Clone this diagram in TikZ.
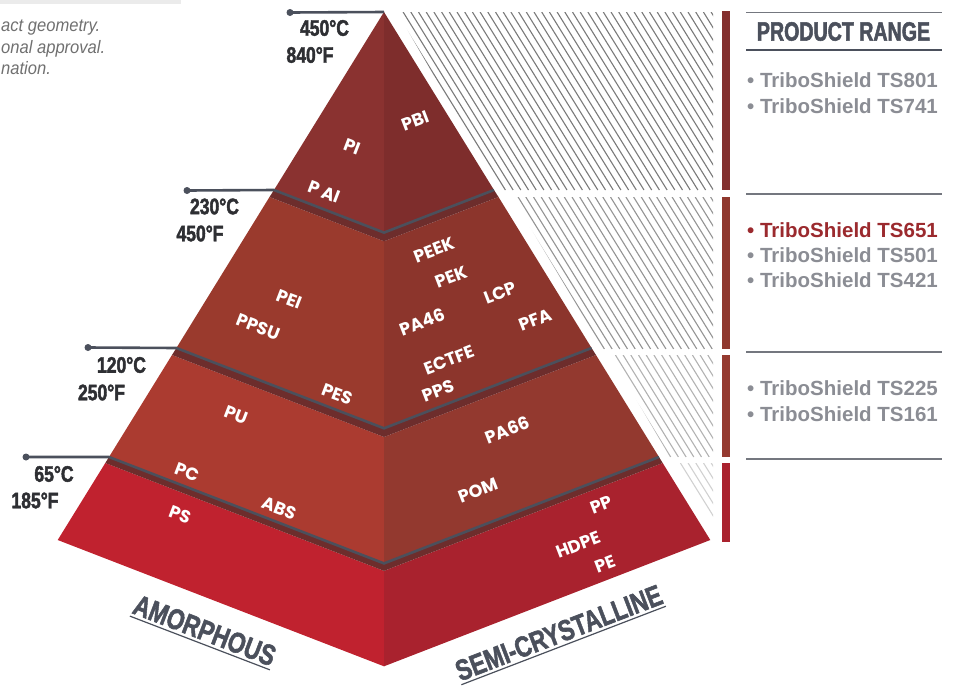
\documentclass[tikz,border=0pt]{standalone}
\usepackage{fontspec}
\setmainfont{Liberation Sans}
\newfontfamily\condf{Liberation Sans}[UprightFont={* Bold}, FakeStretch=0.78, FakeBold=2]
\newfontfamily\condg{Liberation Sans}[UprightFont={* Bold}, FakeStretch=0.74, FakeBold=2]
\newfontfamily\axf{Liberation Sans}[UprightFont={* Bold}, FakeBold=2]
\newfontfamily\notef{Liberation Sans}[FakeStretch=0.92]
\newfontfamily\labf{Poppins}
\definecolor{slate}{HTML}{4B505C}
\definecolor{tempc}{HTML}{2E2F33}
\definecolor{tIl}{HTML}{8A3230}
\definecolor{tIr}{HTML}{7E2D2C}
\definecolor{tIIl}{HTML}{9A3A2D}
\definecolor{tIIr}{HTML}{8C352C}
\definecolor{tIIIl}{HTML}{AB3B30}
\definecolor{tIIIr}{HTML}{93392F}
\definecolor{tIVl}{HTML}{C0222F}
\definecolor{tIVr}{HTML}{A9222E}
\definecolor{band}{HTML}{6D2D2C}
\definecolor{barI}{HTML}{832F2E}
\definecolor{barII}{HTML}{8F382E}
\definecolor{barIII}{HTML}{953A30}
\definecolor{barIV}{HTML}{AA222E}
\definecolor{prodgray}{HTML}{8B8D94}
\definecolor{prodred}{HTML}{9B2A2E}
\definecolor{sepgray}{HTML}{74777F}
\definecolor{notegray}{HTML}{707070}
\definecolor{topbar}{HTML}{EBEBEB}
\tikzset{
  temp/.style={font=\condf\fontsize{22.5}{26}\selectfont, text=tempc, inner sep=0pt},
  mat/.style={font=\labf\bfseries\fontsize{17.5}{20}\selectfont, text=white, inner sep=0pt},
  matL/.style={mat, rotate=-21},
  matR/.style={mat, rotate=21},
  prod/.style={font=\bfseries\fontsize{20.5}{24}\selectfont, text=prodgray, anchor=base west, inner sep=0pt},
  axislab/.style={font=\axf\fontsize{29}{32}\selectfont, text=slate, inner xsep=0pt, inner ysep=3pt},
  gline/.style={draw=slate, line width=2.6pt, line join=miter},
  dotnode/.style={circle, fill=slate, inner sep=0pt, minimum size=7pt},
  sepline/.style={draw=sepgray, line width=1.3pt},
  note/.style={font=\notef\itshape\fontsize{18}{22}\selectfont, text=notegray, inner sep=0pt, anchor=base west},
}
\begin{document}
\begin{tikzpicture}[x=1pt,y=-1pt]
\useasboundingbox (0,0) rectangle (956,686);
% top-left remnants
\fill[topbar] (0,0) rectangle (181,3.5);
\node[note] (n1) at (1,31) {act geometry.};
\node[note] (n2) at (1,53) {onal approval.};
\node[note] (n3) at (1,74) {nation.};

% hatching
\begin{scope}
\clip (397,12) -- (713,12) -- (713,191) -- (501,191) -- cycle;
\foreach \x in {380,387.7,...,720} \draw[color=black!52, line width=1.1pt] (\x,12) -- ++(110,178);
\end{scope}
\begin{scope}
\clip (512,197) -- (713,197) -- (713,349) -- (603,349) -- cycle;
\foreach \x in {495,502.7,...,720} \draw[color=black!42, line width=1.1pt] (\x,197) -- ++(94,152);
\end{scope}
\begin{scope}
\clip (610,355) -- (713,355) -- (713,457) -- (670,457) -- cycle;
\foreach \x in {600,607.7,...,720} \draw[color=black!30, line width=1.1pt] (\x,355) -- ++(63,102);
\end{scope}
\begin{scope}
\clip (678,463) -- (713,463) -- (713,521) -- cycle;
\foreach \x in {665,672.7,...,720} \draw[color=black!18, line width=1.1pt] (\x,463) -- ++(36,58);
\end{scope}

% bars
\fill[barI] (722,11) rectangle (730,190);
\fill[barII] (722,197) rectangle (730,349);
\fill[barIII] (722,355) rectangle (730,457);
\fill[barIV] (722,463) rectangle (730,542);

% pyramid coordinates
\coordinate (A) at (384,12);
\coordinate (L1) at (274,190);   \coordinate (C1) at (384,232.6); \coordinate (R1) at (494,190);
\coordinate (L1b) at (269.5,197); \coordinate (C1b) at (384,241.3); \coordinate (R1b) at (498.5,197);
\coordinate (L2) at (176.4,348); \coordinate (C2) at (384,428.3); \coordinate (R2) at (591.6,348);
\coordinate (L2b) at (172,355);  \coordinate (C2b) at (384,437);   \coordinate (R2b) at (596,355);
\coordinate (L3) at (109,457);   \coordinate (C3) at (384,563.4); \coordinate (R3) at (659,457);
\coordinate (L3b) at (105.3,463); \coordinate (C3b) at (384,570.9); \coordinate (R3b) at (662.7,463);
\coordinate (L4) at (57.7,540);  \coordinate (C4) at (384,666.3); \coordinate (R4) at (710.3,540);

% faces
\fill[tIl] (A) -- (L1) -- (C1) -- cycle;
\fill[tIr] (A) -- (C1) -- (R1) -- cycle;
\fill[tIIl] (L1b) -- (L2) -- (C2) -- (C1b) -- cycle;
\fill[tIIr] (C1b) -- (C2) -- (R2) -- (R1b) -- cycle;
\fill[tIIIl] (L2b) -- (L3) -- (C3) -- (C2b) -- cycle;
\fill[tIIIr] (C2b) -- (C3) -- (R3) -- (R2b) -- cycle;
\fill[tIVl] (L3b) -- (L4) -- (C4) -- (C3b) -- cycle;
\fill[tIVr] (C3b) -- (C4) -- (R4) -- (R3b) -- cycle;
% shadow bands
\fill[band] (L1) -- (C1) -- (R1) -- (R1b) -- (C1b) -- (L1b) -- cycle;
\fill[band] (L2) -- (C2) -- (R2) -- (R2b) -- (C2b) -- (L2b) -- cycle;
\fill[band] (L3) -- (C3) -- (R3) -- (R3b) -- (C3b) -- (L3b) -- cycle;

% temperature lines
\node[dotnode] (d450) at (290,12.5) {};
\node[dotnode] (d230) at (187,190.5) {};
\node[dotnode] (d120) at (88,347.5) {};
\node[dotnode] (d65) at (26,457) {};
\draw[gline] (d450.center) -- (A);
\draw[gline] (d230.center) -- (L1) -- (C1) -- (R1);
\draw[gline] (d120.center) -- (L2) -- (C2) -- (R2);
\draw[gline] (d65.center) -- (L3) -- (C3) -- (R3);

% temperatures
\node[temp] (t450c) at (324.5,28) {450°C};
\node[temp] (t840f) at (310,55) {840°F};
\node[temp] (t230c) at (214.5,206.5) {230°C};
\node[temp] (t450f) at (200,233.5) {450°F};
\node[temp] (t120c) at (121.5,365) {120°C};
\node[temp] (t250f) at (101.5,392.5) {250°F};
\node[temp] (t65c) at (54,474) {65°C};
\node[temp] (t185f) at (35,500.5) {185°F};

% material labels
\node[matL] (pi) at (352,147) {PI};
\node[matL] (pai) at (324,192) {P AI};
\node[matL] (pei) at (289,299) {PEI};
\node[matL] (ppsu) at (258,327) {PPSU};
\node[matL] (pes) at (337,394) {PES};
\node[matL] (pu) at (236,415) {PU};
\node[matL] (pc) at (187,472) {PC};
\node[matL] (abs) at (279,508) {ABS};
\node[matL] (ps) at (180,515) {PS};
\node[matR] (pbi) at (415,121) {PBI};
\node[matR] (peek) at (434,250) {PEEK};
\node[matR] (pek) at (451,277) {PEK};
\node[matR] (lcp) at (500,293) {LCP};
\node[matR] (pa46) at (422,322) {PA46};
\node[matR] (pfa) at (535,320) {PFA};
\node[matR] (ectfe) at (449,360) {ECTFE};
\node[matR] (pps) at (438,391) {PPS};
\node[matR] (pa66) at (507,430) {PA66};
\node[matR] (pom) at (478,490) {POM};
\node[matR] (pp) at (601,505) {PP};
\node[matR] (hdpe) at (578,545) {HDPE};
\node[matR] (pe) at (605,564) {PE};

% axis labels
\node[axislab, rotate=-21] (amor) at (204.7,630.4) {\scalebox{0.78}[1]{AMORPHOUS}};
\draw[slate, line width=1.2pt] (amor.south west) -- (amor.south east);
\node[axislab, rotate=21] (semi) at (558.8,632.9) {\scalebox{0.78}[1]{SEMI-CRYSTALLINE}};
\draw[slate, line width=1.2pt] (semi.south west) -- (semi.south east);

% product range panel
\coordinate (s0a) at (746,12); \coordinate (s0b) at (942,12);
\draw[draw=sepgray, line width=1pt] (s0a) -- (s0b);
\node[font=\condg\fontsize{26.5}{29}\selectfont, text=slate, inner sep=0pt] (pr) at (843.5,31.5) {PRODUCT RANGE};
\coordinate (s1a) at (746,50); \coordinate (s1b) at (942,50);
\draw[draw=slate, line width=2.8pt] (s1a) -- (s1b);
\node[prod] (p801) at (747,87) {• TriboShield TS801};
\node[prod] (p741) at (747,113) {• TriboShield TS741};
\coordinate (s2a) at (746,194); \coordinate (s2b) at (942,194);
\draw[sepline] (s2a) -- (s2b);
\node[prod, text=prodred] (p651) at (747,237) {• TriboShield TS651};
\node[prod] (p501) at (747,262) {• TriboShield TS501};
\node[prod] (p421) at (747,287) {• TriboShield TS421};
\coordinate (s3a) at (746,352); \coordinate (s3b) at (942,352);
\draw[sepline] (s3a) -- (s3b);
\node[prod] (p225) at (747,395) {• TriboShield TS225};
\node[prod] (p161) at (747,421) {• TriboShield TS161};
\coordinate (s4a) at (746,459); \coordinate (s4b) at (942,459);
\draw[sepline] (s4a) -- (s4b);
\end{tikzpicture}
\end{document}
